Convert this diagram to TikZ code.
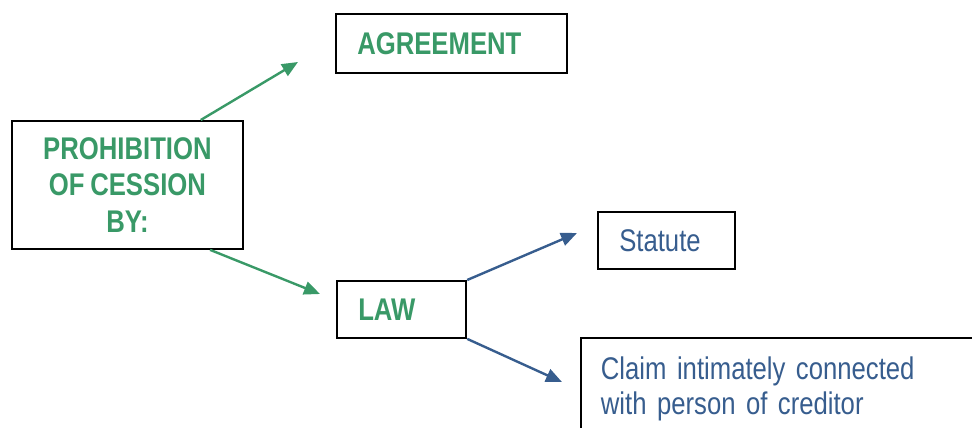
\documentclass[tikz,border=0pt]{standalone}
\usepackage{fontspec}
\setmainfont{Liberation Sans}[FakeStretch=0.82, WordSpace=0.8]
\usetikzlibrary{arrows.meta}
\definecolor{lawgreen}{RGB}{57,153,103}
\definecolor{lawblue}{RGB}{55,93,142}

\begin{document}
\begin{tikzpicture}[
  x=0.75pt, y=-0.75pt,
  box/.style={rectangle, draw=black, line width=1.4pt, anchor=north west,
              inner xsep=16pt, inner ysep=0pt, align=left},
  head/.style={box, text=lawgreen, font=\fontsize{23.5}{27.5}\selectfont\bfseries},
  leaf/.style={box, text=lawblue, font=\fontsize{23.5}{26.5}\selectfont},
  garr/.style={-{Triangle[length=12pt, width=10pt]}, line width=1.8pt, color=lawgreen},
  barr/.style={-{Triangle[length=12pt, width=10pt]}, line width=1.8pt, color=lawblue}
]
\useasboundingbox (0,0) rectangle (972,428);
\clip (0,0) rectangle (972,428);

\node[head, align=center, minimum width=173.25pt, minimum height=96pt] (prohib) at (11,120) {PROHIBITION\\OF CESSION\\BY:};
\node[head, text width=141pt, minimum height=44.25pt] (agree)   at (335,13)  {AGREEMENT};
\node[head, text width=65pt,  minimum height=42.75pt] (law)     at (336,280) {LAW};
\node[leaf, text width=71pt,  minimum height=42.75pt] (statute) at (597,211) {Statute};
\node[leaf, text width=290pt, inner xsep=15pt, inner ysep=14pt] (claim) at (580,337) {Claim intimately connected\\with person of creditor};

\coordinate (agreetip)   at (298,62);
\coordinate (lawtip)     at (320,294);
\coordinate (statutetip) at (577,233);
\coordinate (claimtip)   at (562,382);

\draw[garr] ([xshift=55pt]prohib.north) -- (agreetip);
\draw[garr] ([xshift=62pt]prohib.south) -- (lawtip);
\draw[barr] (law.north east) -- (statutetip);
\draw[barr] (law.south east) -- (claimtip);

\end{tikzpicture}
\end{document}
